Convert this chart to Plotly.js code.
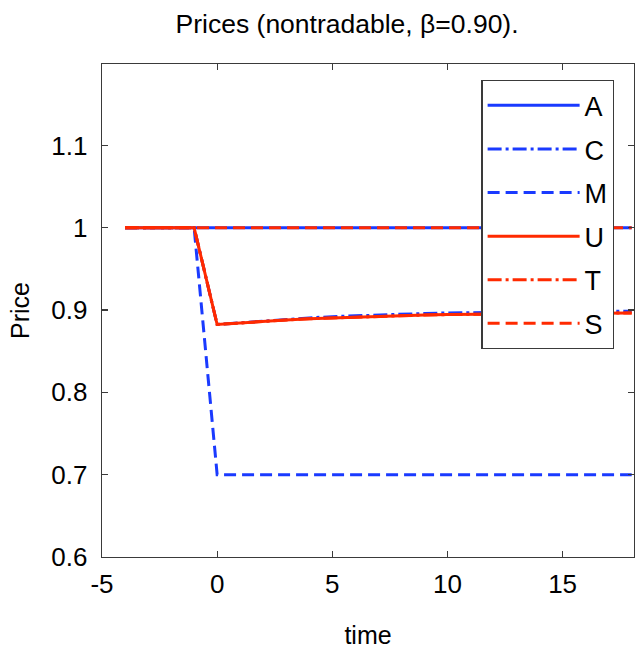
<!DOCTYPE html>
<html>
<head>
<meta charset="utf-8">
<script src="https://cdn.plot.ly/plotly-3.0.1.min.js"></script>
<style>html,body{margin:0;padding:0;background:#fff;}#chart{width:638px;height:652px;}</style>
</head>
<body>
<div id="chart"></div>
<script>
// ---- data ----
var time = [-4,-3,-2,-1,0,1,2,3,4,5,6,7,8,9,10,11,12,13,14,15,16,17,18];
var A = [1,1,1,1,1,1,1,1,1,1,1,1,1,1,1,1,1,1,1,1,1,1,1];
var C = [1,1,1,1,0.8825,0.8847,0.8868,0.8888,0.8905,0.8920,0.8932,0.8943,0.8952,0.8959,0.8965,0.8970,0.8974,0.8977,0.8980,0.8982,0.8984,0.8985,0.8986];
var M = [1,1,1,1,0.70,0.70,0.70,0.70,0.70,0.70,0.70,0.70,0.70,0.70,0.70,0.70,0.70,0.70,0.70,0.70,0.70,0.70,0.70];
var U = [1,1,1,1,0.8825,0.8845,0.8865,0.8880,0.8895,0.8905,0.8915,0.8925,0.8933,0.8940,0.8945,0.8950,0.8953,0.8956,0.8958,0.8960,0.8962,0.8963,0.8964];
var T = [1,1,1,1,0.8825,0.8845,0.8865,0.8880,0.8895,0.8905,0.8915,0.8925,0.8933,0.8940,0.8945,0.8950,0.8953,0.8956,0.8958,0.8960,0.8962,0.8963,0.8964];
var S = [1,1,1,1,1,1,1,1,1,1,1,1,1,1,1,1,1,1,1,1,1,1,1];
var seriesNames = ["A","C","M","U","T","S"];
var xTickVals = [-5,0,5,10,15];
var xTickText = ["-5","0","5","10","15"];
var yTickVals = [0.6,0.7,0.8,0.9,1,1.1];
var yTickText = ["0.6","0.7","0.8","0.9","1","1.1"];

var blue = "#1a3aff", red = "#ff2a00";
var dashDot = "14px,4px,3px,4px", dashed = "12px,6px";
var series = [A, C, M, U, T, S];
var styles = [
  {color: blue, dash: "solid"},
  {color: blue, dash: dashDot},
  {color: blue, dash: dashed},
  {color: red, dash: "solid"},
  {color: red, dash: dashDot},
  {color: red, dash: dashed}
];
var traces = series.map(function(ys, i){
  return {
    x: time, y: ys, name: seriesNames[i], type: "scatter", mode: "lines",
    legendgroup: "g" + i,
    line: {color: styles[i].color, dash: styles[i].dash, width: 3}
  };
});

var font = "Liberation Sans, Arial, sans-serif";
var axisCommon = {
  showline: true, linecolor: "#3a3a3a", linewidth: 1.3, mirror: "ticks",
  ticks: "inside", ticklen: 6, tickcolor: "#3a3a3a", tickwidth: 1.3,
  showgrid: false, zeroline: false,
  tickfont: {family: font, size: 26, color: "#000"}
};
var layout = {
  width: 638, height: 652,
  margin: {l: 102, r: 4, t: 64, b: 95},
  paper_bgcolor: "#fff", plot_bgcolor: "#fff",
  title: {text: "Prices (nontradable, \u03b2=0.90).", font: {family: font, size: 26.5, color: "#000"},
          x: 0.544, xanchor: "center", y: 0.963, yanchor: "middle", yref: "container"},
  xaxis: Object.assign({}, axisCommon, {
    range: [-5, 18.1], tickmode: "array", tickvals: xTickVals, ticktext: xTickText,
    ticklabelstandoff: 3,
    title: {text: "time", font: {family: font, size: 25, color: "#000"}, standoff: 29}
  }),
  yaxis: Object.assign({}, axisCommon, {
    range: [0.6, 1.199], tickmode: "array", tickvals: yTickVals, ticktext: yTickText,
    ticklabelstandoff: 8,
    title: {text: "Price", font: {family: font, size: 25, color: "#000"}, standoff: 14}
  }),
  showlegend: true,
  legend: {
    x: 0.713, xanchor: "left", y: 0.9675, yanchor: "top",
    bgcolor: "#fff", bordercolor: "#3a3a3a", borderwidth: 1.3,
    font: {family: font, size: 27, color: "#000"},
    itemwidth: 92, tracegroupgap: 5.5, traceorder: "grouped"
  }
};
Plotly.newPlot("chart", traces, layout, {staticPlot: true, displayModeBar: false});
</script>
</body>
</html>
